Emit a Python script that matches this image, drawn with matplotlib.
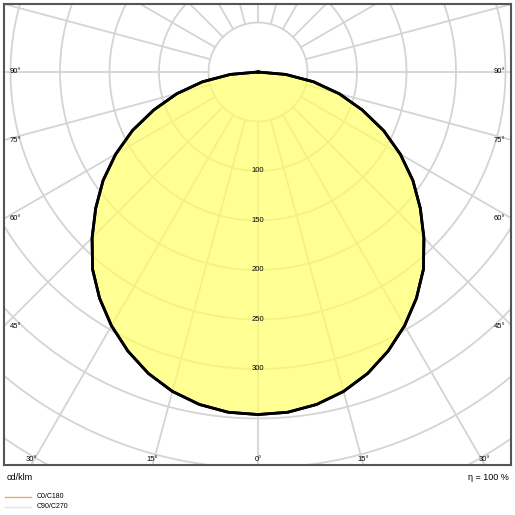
import numpy as np
import matplotlib.pyplot as plt

plt.rcParams['font.family'] = ['Liberation Sans', 'DejaVu Sans']

# luminous intensity distribution, cd/klm
angles = [0, 5, 10, 15, 20, 25, 30, 35, 40, 45, 50, 55, 60, 65, 70, 75, 80, 85, 90]
c0_c180 = [346, 345, 341, 334, 324, 311, 296, 279, 260, 237, 214, 191, 166, 140, 112, 85, 57, 28, 0]
c90_c270 = [346, 345, 341, 334, 324, 311, 296, 279, 260, 237, 214, 191, 166, 140, 112, 85, 57, 28, 0]
ring_labels = [100, 150, 200, 250, 300]
side_angles = [90, 75, 60, 45]
bottom_angles = [30, 15, 0]

W = H = 515
s = 0.99  # px per cd
cx, cy = 258, 72
L, R, T, B = 4, 511, 4, 465

fig = plt.figure(figsize=(W / 100, H / 100), dpi=100)
ax = fig.add_axes([L / W, 1 - B / H, (R - L) / W, (B - T) / H])
ax.set_xlim((L - cx) / s, (R - cx) / s)
ax.set_ylim(-(B - cy) / s, (cy - T) / s)
ax.set_aspect('equal')
ax.set_xticks([])
ax.set_yticks([])
for sp in ax.spines.values():
    sp.set_linewidth(1.5)
    sp.set_color('#555555')

grid = '#d4d4d4'
t = np.linspace(0, 2 * np.pi, 400)
for r in range(50, 700, 50):
    ax.plot(r * np.cos(t), r * np.sin(t), color=grid, lw=1.3, zorder=1)
for a in range(0, 360, 15):
    ar = np.radians(a)
    ax.plot([50 * np.sin(ar), 900 * np.sin(ar)], [-50 * np.cos(ar), -900 * np.cos(ar)],
            color=grid, lw=1.3, zorder=1)

# curve, mirrored to both sides
th = np.radians(np.array(angles))
full_th = np.concatenate([-th[::-1], th[1:]])
for i, vals in enumerate([c90_c270, c0_c180]):
    v = np.array(vals, float)
    full_v = np.concatenate([v[::-1], v[1:]])
    x = full_v * np.sin(full_th)
    y = -full_v * np.cos(full_th)
    if i == 1:
        ax.fill(x, y, color='#ffff66', alpha=0.7, zorder=2, lw=0)
    ax.plot(x, y, color='black', lw=2, zorder=3, solid_joinstyle='round')

for r in ring_labels:
    ax.text(0, -r, str(r), fontsize=5.5, ha='center', va='center', zorder=4)

fs = 5.5
xl, xr = (L - cx) / s, (R - cx) / s
for a in side_angles:
    yy = -(-xl) / np.tan(np.radians(a)) if a != 90 else 0
    ax.text(xl + 6, yy, f'{a}°', fontsize=fs, ha='left', va='center', zorder=4)
    ax.text(xr - 6, yy, f'{a}°', fontsize=fs, ha='right', va='center', zorder=4)
yb = -(B - cy - 5) / s
for a in bottom_angles:
    xx = (B - cy) / s * np.tan(np.radians(a))
    ax.text(-xx, yb, f'{a}°', fontsize=fs, ha='center', va='center', zorder=4)
    if a:
        ax.text(xx, yb, f'{a}°', fontsize=fs, ha='center', va='center', zorder=4)

fig.text(7 / W, 1 - 477 / H, 'cd/klm', fontsize=6.5, ha='left', va='center')
fig.text(509 / W, 1 - 477 / H, 'η = 100 %', fontsize=6.5, ha='right', va='center')
for yy, col, lab in [(497, '#d8b070', 'C0/C180'), (507, '#e4e4e4', 'C90/C270')]:
    fig.add_artist(plt.Line2D([5 / W, 31 / W], [1 - yy / H] * 2, color=col, lw=1))
    fig.text(37 / W, 1 - yy / H, lab, fontsize=5, ha='left', va='center')

fig.savefig('out.png', dpi=100)
